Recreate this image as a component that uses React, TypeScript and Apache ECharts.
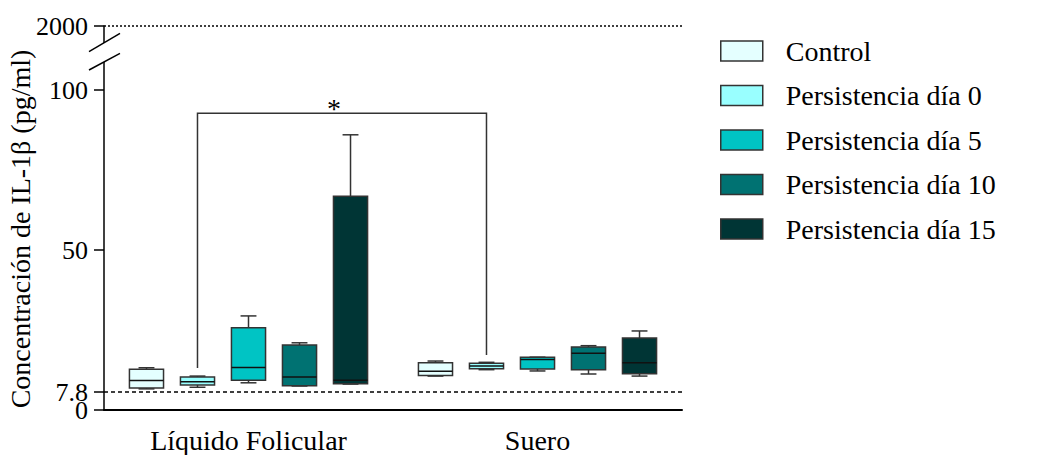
import React, { useEffect, useRef } from "react";
import * as echarts from "echarts";

// ---- data ----
const categories = ["Líquido Folicular", "Suero"];
const seriesNames = [
  "Control",
  "Persistencia día 0",
  "Persistencia día 5",
  "Persistencia día 10",
  "Persistencia día 15",
];
// [min, Q1, median, Q3, max] per category
const control = [
  [6.6, 6.9, 9.2, 12.7, 13.2],
  [10.6, 10.8, 12.1, 14.8, 15.3],
];
const persist0 = [
  [7.1, 7.8, 8.8, 10.3, 10.6],
  [12.6, 12.9, 13.75, 14.6, 14.9],
];
const persist5 = [
  [8.5, 9.3, 13.3, 25.7, 29.4],
  [12.2, 12.8, 15.8, 16.5, 16.5],
];
const persist10 = [
  [7.5, 7.6, 10.3, 20.3, 21.0],
  [11.25, 12.6, 17.7, 19.7, 20.1],
];
const persist15 = [
  [8.1, 8.2, 9.3, 66.8, 86.0],
  [10.6, 11.3, 14.8, 22.5, 24.7],
];
const seriesValues = [control, persist0, persist5, persist10, persist15];

// y axis (broken above 100: axis position 120 shows 2000)
const yTickValues = [0, 5.6, 50, 100, 120];
const yMainLabelValues = [0, 50, 100, 120];
const yMainLabels = ["0", "50", "100", "2000"];
const detectionLinePos = 5.6; // labelled 7.8 (limit of detection)
const detectionLabel = "7.8";
const topLinePos = 120; // labelled 2000

// significance bracket: between series 1 of category 0 and series 1 of category 1
const bracket = { leftCat: 0, rightCat: 1, seriesIdx: 1, top: 92.7, leftBottom: 13.1, rightBottom: 17.2, label: "*" };

// ---- styles ----
const colors = ["#E4FFFF", "#99FFFF", "#00C4C4", "#007272", "#003535"];
const FONT = "'Liberation Serif', 'Times New Roman', serif";
const STEP = 0.1765; // fraction of band between neighbouring boxes
const BOX_W = 0.118;
const CAP_W = 0.055;
const STROKE = "#333";

export default function App() {
  const ref = useRef<HTMLDivElement>(null);

  useEffect(() => {
    if (!ref.current) return;
    const chart = echarts.init(ref.current, undefined, { renderer: "svg" });

    const boxSeries = seriesNames.map((name, si) => ({
      name,
      type: "custom",
      coordinateSystem: "cartesian2d",
      encode: { x: 0, y: [1, 2, 3, 4, 5] },
      itemStyle: { color: colors[si], borderColor: STROKE, borderWidth: 1.5 },
      data: seriesValues[si].map((v, ci) => [ci, ...v]),
      renderItem: (params: any, api: any) => {
        const cat = api.value(0);
        const band = api.size([1, 0])[0];
        const cx = api.coord([cat, 0])[0] + (si - 2) * band * STEP;
        const w = band * BOX_W;
        const cap = band * CAP_W;
        const y = (d: number) => api.coord([cat, api.value(d)])[1];
        const yMin = y(1), yQ1 = y(2), yMed = y(3), yQ3 = y(4), yMax = y(5);
        const ls = { stroke: STROKE, lineWidth: 1.5 };
        return {
          type: "group",
          children: [
            { type: "line", shape: { x1: cx, y1: yMax, x2: cx, y2: yQ3 }, style: ls },
            { type: "line", shape: { x1: cx, y1: yQ1, x2: cx, y2: yMin }, style: ls },
            { type: "line", shape: { x1: cx - cap / 2, y1: yMax, x2: cx + cap / 2, y2: yMax }, style: ls },
            { type: "line", shape: { x1: cx - cap / 2, y1: yMin, x2: cx + cap / 2, y2: yMin }, style: ls },
            {
              type: "rect",
              shape: { x: cx - w / 2, y: yQ3, width: w, height: Math.max(yQ1 - yQ3, 1) },
              style: { fill: colors[si], stroke: STROKE, lineWidth: 1.5 },
            },
            { type: "line", shape: { x1: cx - w / 2, y1: yMed, x2: cx + w / 2, y2: yMed }, style: { stroke: "#111", lineWidth: 1.5 } },
          ],
        };
      },
    }));

    const bracketSeries = {
      name: "bracket",
      type: "custom",
      coordinateSystem: "cartesian2d",
      silent: true,
      clip: false,
      encode: { x: 0, y: [2, 3, 4] },
      data: [[bracket.leftCat, bracket.rightCat, bracket.top, bracket.leftBottom, bracket.rightBottom]],
      renderItem: (params: any, api: any) => {
        const band = api.size([1, 0])[0];
        const off = (bracket.seriesIdx - 2) * band * STEP;
        const xl = api.coord([api.value(0), 0])[0] + off;
        const xr = api.coord([api.value(1), 0])[0] + off;
        const yt = api.coord([0, api.value(2)])[1];
        const ylb = api.coord([0, api.value(3)])[1];
        const yrb = api.coord([0, api.value(4)])[1];
        return {
          type: "group",
          children: [
            {
              type: "polyline",
              shape: { points: [[xl, ylb], [xl, yt], [xr, yt], [xr, yrb]] },
              style: { stroke: "#333", lineWidth: 1.5, fill: "none" },
            },
            {
              type: "text",
              x: (xl + xr) / 2 - 8,
              y: yt - 5,
              style: { text: bracket.label, font: `28px ${FONT}`, fill: "#000", align: "center", verticalAlign: "middle" },
            },
          ],
        };
      },
      markLine: {
        silent: true,
        symbol: "none",
        label: { show: false },
        data: [
          { yAxis: topLinePos, lineStyle: { type: [2, 2], color: "#000", width: 1.5 } },
          { yAxis: detectionLinePos, lineStyle: { type: [4, 3], color: "#000", width: 1.5 } },
        ],
      },
    };

    const fmt = (vals: number[], labels: string[]) => (v: number) => {
      const i = vals.findIndex((t) => Math.abs(t - v) < 1e-6);
      return i >= 0 ? labels[i] : "";
    };

    chart.setOption({
      animation: false,
      backgroundColor: "#fff",
      textStyle: { fontFamily: FONT },
      grid: { left: 104, right: 355, top: 26, bottom: 45, containLabel: false, outerBoundsMode: "none" },
      legend: {
        orient: "vertical",
        left: 720,
        top: 37,
        padding: 0,
        itemWidth: 42,
        itemHeight: 20,
        itemGap: 16.5,
        icon: "rect",
        textStyle: { fontFamily: FONT, fontSize: 28, color: "#000", padding: [0, 0, 0, 18] },
        data: seriesNames.map((n, i) => ({
          name: n,
          itemStyle: { color: colors[i], borderColor: STROKE, borderWidth: 1.5 },
        })),
      },
      xAxis: {
        type: "category",
        data: categories,
        boundaryGap: true,
        axisLine: { show: true, onZero: false, lineStyle: { color: "#000", width: 2 } },
        axisTick: { show: false },
        axisLabel: { fontFamily: FONT, fontSize: 28, color: "#000", margin: 16 },
      },
      yAxis: [
        {
          type: "value",
          min: 0,
          max: 120,
          name: "Concentración de IL-1β (pg/ml)",
          nameLocation: "middle",
          nameGap: 70,
          nameMoveOverlap: false,
          nameTextStyle: { fontFamily: FONT, fontSize: 28, color: "#000", padding: [0, 22, 0, 0] },
          splitLine: { show: false },
          axisLine: { show: true, onZero: false, lineStyle: { color: "#000", width: 1.5 } },
          axisTick: { show: true, length: 10, customValues: yTickValues, lineStyle: { color: "#000", width: 1.5 } },
          axisLabel: {
            customValues: yMainLabelValues,
            hideOverlap: false,
            showMinLabel: true,
            showMaxLabel: true,
            fontFamily: FONT,
            fontSize: 26,
            color: "#000",
            margin: 16,
            formatter: fmt(yMainLabelValues, yMainLabels),
          },
        },
        {
          type: "value",
          position: "left",
          offset: 0,
          min: 0,
          max: 120,
          splitLine: { show: false },
          axisLine: { show: false, onZero: false },
          axisTick: { show: false },
          axisLabel: {
            customValues: [detectionLinePos],
            hideOverlap: false,
            fontFamily: FONT,
            fontSize: 26,
            color: "#000",
            margin: 16,
            formatter: () => detectionLabel,
          },
        },
      ],
      graphic: [
        { type: "rect", z: 100, shape: { x: 100, y: 43, width: 8, height: 19 }, style: { fill: "#fff" } },
        { type: "line", z: 101, shape: { x1: 89, y1: 51.7, x2: 120, y2: 33.3 }, style: { stroke: "#000", lineWidth: 1.5 } },
        { type: "line", z: 101, shape: { x1: 89, y1: 70, x2: 120, y2: 53.3 }, style: { stroke: "#000", lineWidth: 1.5 } },
      ],
      series: [...boxSeries, bracketSeries],
    });

    return () => chart.dispose();
  }, []);

  return <div ref={ref} style={{ width: 1037, height: 455, position: "absolute", left: 0, top: 0 }} />;
}
